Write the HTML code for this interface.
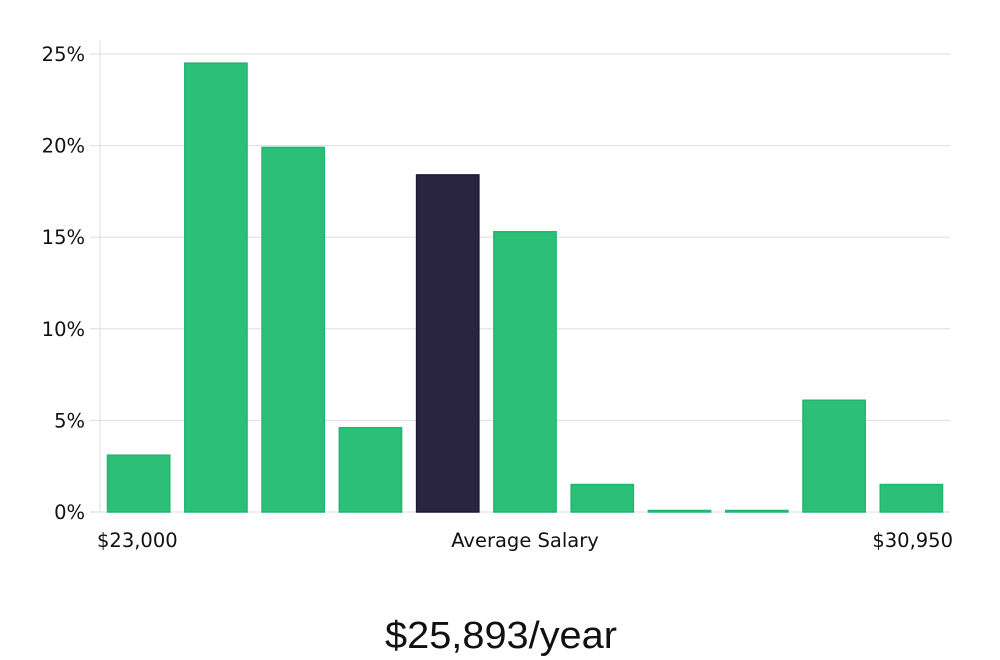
<!DOCTYPE html>
<html><head><meta charset="utf-8"><style>
html,body{margin:0;padding:0;background:#fff;width:1000px;height:660px;overflow:hidden}
svg text{font-family:"DejaVu Sans","Liberation Sans",sans-serif;fill:#111}
</style></head><body>
<svg id="chart" width="1000" height="660" xmlns="http://www.w3.org/2000/svg">
<g id="grid"></g>
<g id="bars"></g>
<g id="yaxis"></g>
<text x="97" y="547" font-size="19.5">$23,000</text>
<text x="525" y="547" font-size="19.5" text-anchor="middle">Average Salary</text>
<text x="953" y="547" font-size="19.5" text-anchor="end">$30,950</text>
<text x="501" y="648" font-size="38" text-anchor="middle" style="font-family:'Liberation Sans',sans-serif;font-weight:300" textLength="232" lengthAdjust="spacingAndGlyphs">$25,893/year</text>
</svg>
<script>
const categories=["b1","b2","b3","b4","b5","b6","b7","b8","b9","b10","b11"];
const values=[3.1,24.5,19.9,4.6,18.4,15.3,1.5,0,0,6.1,1.5];
const highlight=[false,false,false,false,true,false,false,false,false,false,false];
const yTicks=[0,5,10,15,20,25];
const yTickLabels=["0%","5%","10%","15%","20%","25%"];
const NS="http://www.w3.org/2000/svg";
const x0=100,x1=950,y0=512,yTop=54;
function y(v){return y0-(v/25)*(y0-yTop);}
const slot=(x1-x0)/categories.length;
function xs(i){return x0+i*slot+7.5;}
const grid=document.getElementById('grid'),yaxis=document.getElementById('yaxis'),bars=document.getElementById('bars');
function mk(t,a){const e=document.createElementNS(NS,t);for(const k in a)e.setAttribute(k,a[k]);return e;}
yTicks.forEach((t,i)=>{
  const l=mk('line',{x1:90,x2:x1,y1:y(t),y2:y(t),stroke:'#ddd','stroke-width':1});
  
  
  grid.appendChild(l);
  const tx=mk('text',{x:85,y:y(t)+7,'text-anchor':'end','font-size':19.5});
  
  
  tx.textContent=yTickLabels[i];yaxis.appendChild(tx);
});
const ax=mk('line',{x1:100,x2:100,y1:40,y2:y0,stroke:'#ddd','stroke-width':1});


yaxis.appendChild(ax);
values.forEach((v,i)=>{
  const h=Math.max(1.5,y0-y(v));
  const r=mk('rect',{x:xs(i),y:y0-h,width:slot-15,height:h,fill:highlight[i]?'#29243f':'#2bbf78',stroke:highlight[i]?'#1c1838':'#1fb86e','stroke-width':1.5});
  
  
  bars.appendChild(r);
});
</script>
</body></html>
